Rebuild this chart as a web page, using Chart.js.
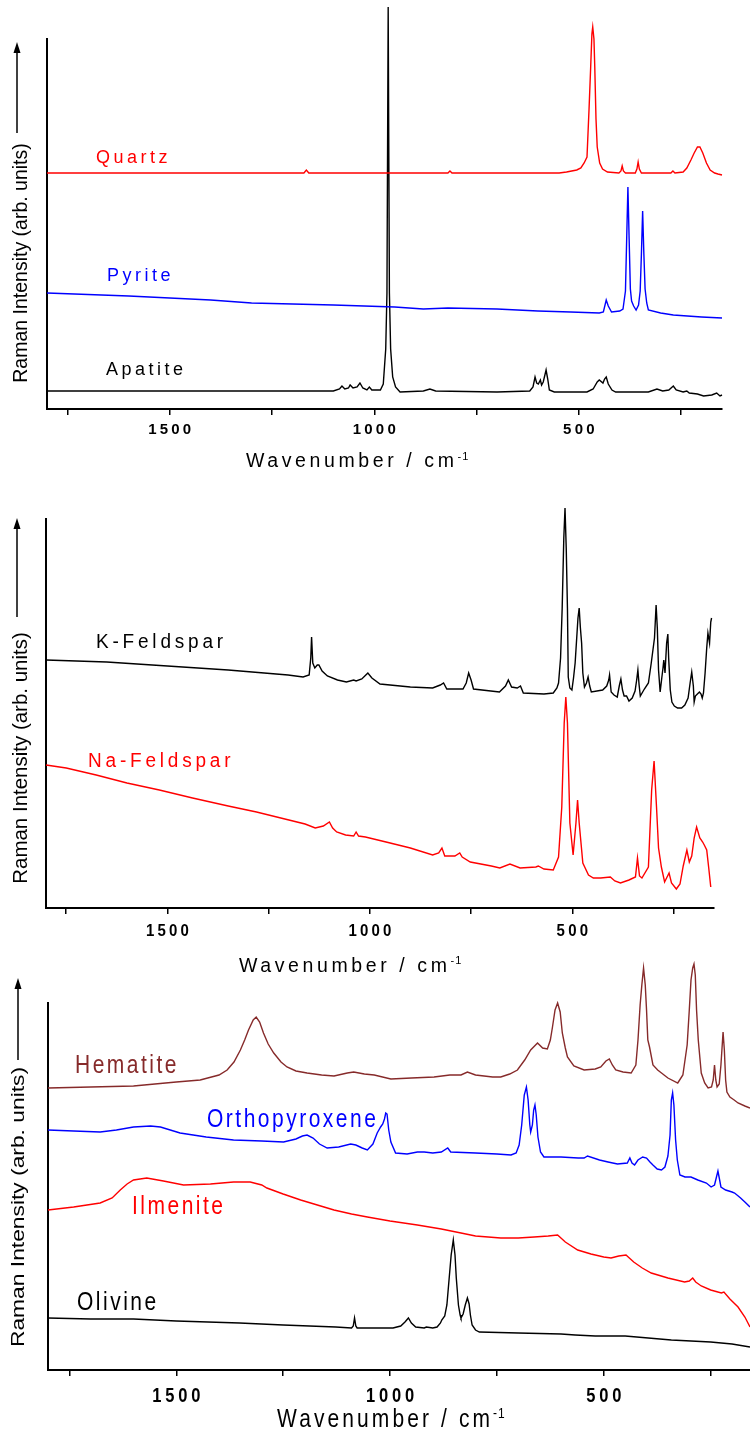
<!DOCTYPE html>
<html>
<head>
<meta charset="utf-8">
<script src="https://cdn.jsdelivr.net/npm/chart.js@4.4.0/dist/chart.umd.min.js"></script>
<style>
  html, body { margin: 0; padding: 0; background: #fff; }
  body { width: 750px; height: 1434px; position: relative; overflow: hidden; }
  .panel { position: absolute; left: 0; width: 750px; }
  #p1 { top: 0; height: 480px; }
  #p2 { top: 480px; height: 500px; }
  #p3 { top: 940px; height: 494px; }
  canvas { display: block; }
</style>
</head>
<body>
<div class="panel" id="p1"><canvas id="c1"></canvas></div>
<div class="panel" id="p2"><canvas id="c2"></canvas></div>
<div class="panel" id="p3"><canvas id="c3"></canvas></div>

<script>
// Raman spectra of minerals - three stacked panels, wavenumber axis reversed

// shared x axis ticks
const xTicks = [1750, 1500, 1250, 1000, 750, 500, 250];
const xTickLabels = ['', '1500', '', '1000', '', '500', ''];

// --- panel 1 : [wavenumber, intensity (arb.)]
const quartz = [[1800,236],[1172,236],[1166,239],[1160,236],[820,236],[815,238],[810,236],[548,236],[530,237],[505,239],[495,241],[487,246],[480,252],[475,300],[471,342],[468,375],[466,382],[463,370],[461,342],[458,290],[455,262],[449,246],[442,240],[430,237],[402,236],[397,238],[394,243],[391,238],[386,236],[362,236],[358,240],[355,247],[352,240],[347,236],[275,236],[270,238],[265,236],[245,237],[236,241],[226,249],[218,256],[210,262],[204,262],[197,256],[188,246],[179,239],[168,236],[160,235],[150,234]];
const pyrite = [[1800,116],[1600,113],[1400,109],[1300,106],[1100,104],[950,102],[880,100],[820,101],[700,100],[600,98],[520,97],[450,96],[440,97],[433,109],[428,103],[420,97],[400,98],[392,100],[386,118],[383,170],[380,222],[377,170],[374,120],[371,108],[366,103],[360,99],[354,104],[350,118],[347,155],[344,198],[341,155],[338,120],[334,106],[330,99],[300,96],[269,94],[200,92],[150,91]];
const apatite = [[1800,18],[1100,18],[1085,20],[1079,23],[1072,20],[1063,21],[1059,24],[1052,21],[1042,22],[1035,26],[1028,21],[1018,19],[1012,22],[1006,19],[985,19],[978,25],[972,60],[969,116],[966,402],[963,116],[960,60],[955,32],[948,22],[937,17],[880,18],[864,20],[850,18],[700,17],[620,18],[612,22],[607,32],[603,26],[599,25],[594,29],[591,24],[587,27],[580,39],[576,30],[572,19],[560,17],[480,17],[465,20],[455,27],[450,29],[441,26],[437,30],[433,32],[428,25],[419,19],[410,17],[330,17],[309,20],[295,18],[280,19],[269,23],[262,19],[245,17],[236,18],[230,16],[210,15],[195,13],[175,14],[163,16],[155,13],[150,14]];

// --- panel 2
const kFeldspar = [[1800,248],[1650,246],[1500,242],[1350,238],[1202,233],[1165,231],[1150,233],[1146,250],[1144,271],[1141,245],[1136,240],[1130,243],[1126,243],[1118,237],[1105,232],[1080,228],[1058,226],[1040,228],[1034,227],[1020,229],[1010,233],[1005,235],[995,230],[975,224],[900,221],[845,220],[826,223],[818,225],[810,219],[770,219],[762,225],[756,235],[750,228],[744,219],[680,216],[665,222],[658,228],[650,221],[636,220],[628,222],[621,215],[570,214],[547,215],[538,220],[534,225],[529,250],[525,300],[521,370],[518,400],[515,360],[512,300],[510,231],[506,220],[501,218],[497,230],[493,245],[486,290],[483,300],[480,280],[477,265],[474,235],[470,221],[465,225],[461,231],[457,222],[453,216],[425,218],[415,222],[410,228],[408,233],[404,216],[397,213],[389,211],[384,222],[380,229],[376,218],[372,212],[366,212],[360,207],[352,210],[345,217],[341,228],[338,238],[335,223],[332,212],[322,219],[312,225],[305,245],[297,270],[293,303],[290,280],[287,238],[283,216],[279,230],[276,240],[274,248],[271,235],[267,265],[264,274],[262,250],[258,218],[254,206],[248,202],[240,200],[230,200],[222,203],[214,210],[209,225],[205,236],[201,222],[199,206],[196,212],[191,214],[186,216],[182,214],[179,210],[176,215],[172,235],[168,260],[165,275],[161,265],[158,286],[156,290]];
const naFeldspar = [[1800,143],[1750,140],[1676,133],[1600,125],[1520,118],[1438,110],[1350,102],[1280,96],[1200,88],[1160,84],[1135,80],[1115,82],[1100,86],[1092,80],[1082,76],[1060,73],[1040,72],[1034,76],[1028,72],[1011,71],[960,66],[900,60],[845,53],[830,55],[822,60],[815,52],[790,52],[778,55],[772,51],[752,46],[700,42],[679,40],[654,44],[629,40],[590,41],[584,42],[570,39],[547,38],[534,51],[526,101],[520,185],[516,211],[512,185],[506,85],[498,53],[491,85],[487,108],[483,85],[474,45],[460,33],[448,30],[430,30],[406,31],[395,27],[381,25],[360,28],[344,31],[339,50],[334,32],[328,30],[312,41],[304,118],[298,147],[292,101],[287,60],[280,41],[272,26],[261,35],[255,25],[243,19],[234,24],[226,42],[217,58],[211,46],[205,52],[199,70],[193,81],[185,70],[178,66],[174,63],[168,58],[163,40],[158,21]];

// --- panel 3
const hematite = [[1800,282],[1700,283],[1600,284],[1500,288],[1444,290],[1400,295],[1381,300],[1365,308],[1350,320],[1340,330],[1331,340],[1320,350],[1313,353],[1305,348],[1296,337],[1285,326],[1272,317],[1255,308],[1241,303],[1220,299],[1194,297],[1160,295],[1131,294],[1100,297],[1085,298],[1060,296],[1037,295],[998,291],[950,292],[897,293],[860,295],[834,295],[819,298],[800,295],[760,293],[741,293],[720,296],[702,300],[685,310],[671,320],[655,327],[643,322],[632,321],[625,330],[620,343],[614,360],[608,367],[602,358],[597,337],[590,322],[585,313],[570,304],[546,300],[520,301],[507,303],[495,309],[487,311],[480,305],[472,300],[455,298],[436,297],[425,305],[420,330],[415,365],[411,385],[407,402],[403,385],[400,360],[397,330],[393,323],[385,305],[374,300],[350,292],[327,287],[315,295],[305,325],[300,360],[296,390],[292,402],[289,406],[286,395],[283,360],[279,330],[272,297],[264,287],[256,282],[248,283],[244,290],[241,305],[238,290],[235,283],[230,286],[226,305],[221,338],[218,320],[215,290],[212,278],[205,273],[195,270],[186,267],[170,264],[158,262]];
const orthopyroxene = [[1800,240],[1740,239],[1678,238],[1640,240],[1600,243],[1560,244],[1537,243],[1491,237],[1430,233],[1366,230],[1300,229],[1249,228],[1220,231],[1205,234],[1194,235],[1180,232],[1165,226],[1147,222],[1120,223],[1092,226],[1080,225],[1065,222],[1053,220],[1040,226],[1030,237],[1022,243],[1017,246],[1013,251],[1010,257],[1007,256],[1003,240],[998,228],[987,217],[960,216],[936,218],[920,218],[900,217],[880,218],[865,222],[858,218],[800,217],[750,216],[717,215],[705,217],[698,225],[692,245],[686,275],[681,283],[677,270],[673,245],[671,238],[667,245],[664,260],[661,265],[658,255],[654,233],[648,218],[640,213],[600,213],[560,212],[546,212],[538,214],[510,210],[490,208],[468,206],[445,207],[439,212],[434,207],[428,205],[420,210],[409,213],[400,212],[392,208],[385,205],[375,201],[365,200],[357,203],[350,214],[345,235],[342,270],[339,277],[336,265],[332,230],[328,210],[322,195],[310,193],[296,193],[280,190],[260,187],[249,183],[241,185],[237,192],[233,199],[229,190],[226,183],[215,180],[200,178],[194,177],[180,172],[170,168],[158,163]];
const ilmenite = [[1800,160],[1740,163],[1678,167],[1650,172],[1631,180],[1615,186],[1600,190],[1569,192],[1530,189],[1483,185],[1420,186],[1366,188],[1327,188],[1300,185],[1288,182],[1250,176],[1209,170],[1170,165],[1131,160],[1090,156],[1053,153],[1000,149],[936,145],[880,141],[834,137],[800,134],[741,132],[700,132],[663,133],[630,134],[608,135],[590,128],[561,120],[530,116],[500,113],[483,112],[465,114],[448,115],[430,108],[410,102],[389,97],[350,92],[311,88],[300,89],[292,92],[285,88],[272,84],[250,80],[225,77],[219,78],[205,71],[186,63],[170,53],[158,43]];
const olivine = [[1800,52],[1700,51],[1600,51],[1500,49],[1352,47],[1250,45],[1127,43],[1090,42],[1086,44],[1083,52],[1080,44],[1077,42],[1040,42],[993,42],[975,44],[965,48],[957,52],[950,47],[940,43],[920,42],[915,43],[900,42],[890,43],[882,47],[879,50],[872,54],[867,65],[862,90],[857,115],[852,130],[848,115],[845,92],[840,65],[836,55],[834,52],[829,56],[824,65],[819,72],[815,66],[812,55],[808,45],[800,40],[791,38],[700,37],[600,36],[567,35],[520,34],[450,34],[342,30],[250,28],[200,26],[158,23]];

const RED = '#ff0000', BLUE = '#0000ff', BLACK = '#000000', BROWN = '#862a2a';
const FONT = '"Liberation Sans", Arial, Helvetica, sans-serif';

const panels = [
  {
    id: 'c1', w: 750, h: 480, left: 47, right: 722, top: 39, bottom: 409, xMin: 150, yMax: 370, sy: 1,
    tickFont: 15, tickSpacing: 3.2, tickY: 430,
    titleFont: 19.5, titleSpacing: 3.6, titleX: 246, titleY: 462,
    yTitleFont: 19.5, yTitleX: 22, yTitleY: 263, arrowX: 17, arrowFrom: 133, arrowTo: 42,
    labelFont: 18, labelSpacing: 3.5,
    series: [
      { name: 'Quartz', data: quartz, color: RED, lx: 96, ly: 158 },
      { name: 'Pyrite', data: pyrite, color: BLUE, lx: 107, ly: 276 },
      { name: 'Apatite', data: apatite, color: BLACK, lx: 106, ly: 370 }
    ]
  },
  {
    id: 'c2', w: 750, h: 500, left: 46, right: 714, top: 39, bottom: 428, xMin: 150, yMax: 389, sy: 1.05,
    tickFont: 15, tickSpacing: 3.2, tickY: 452,
    titleFont: 19.5, titleSpacing: 3.6, titleX: 239, titleY: 486,
    yTitleFont: 19.5, yTitleX: 22, yTitleY: 278, arrowX: 17, arrowFrom: 137, arrowTo: 38,
    labelFont: 19, labelSpacing: 3.8,
    series: [
      { name: 'K-Feldspar', data: kFeldspar, color: BLACK, lx: 96, ly: 163 },
      { name: 'Na-Feldspar', data: naFeldspar, color: RED, lx: 88, ly: 282 }
    ]
  },
  {
    id: 'c3', w: 750, h: 494, left: 48, right: 750, top: 63, bottom: 430, xMin: 158, yMax: 367, sy: 1.2,
    tickFont: 16.5, tickSpacing: 3.8, tickY: 457,
    titleFont: 21, titleSpacing: 3.1, titleX: 277, titleY: 480,
    yTitleFont: 19, yTitleX: 19, yTitleY: 267, arrowX: 18, arrowFrom: 120, arrowTo: 38,
    labelFont: 21, labelSpacing: 2.5,
    series: [
      { name: 'Hematite', data: hematite, color: BROWN, lx: 75, ly: 126 },
      { name: 'Orthopyroxene', data: orthopyroxene, color: BLUE, lx: 207, ly: 180 },
      { name: 'Ilmenite', data: ilmenite, color: RED, lx: 132, ly: 267 },
      { name: 'Olivine', data: olivine, color: BLACK, lx: 77, ly: 363 }
    ]
  }
];

function stretchedText(ctx, str, x, y, sy, align) {
  ctx.save();
  ctx.translate(x, y);
  ctx.scale(1, sy);
  ctx.textAlign = align;
  ctx.textBaseline = 'middle';
  ctx.fillText(str, 0, 0);
  ctx.restore();
}

function makeDecor(p) {
  return {
    id: 'decor',
    afterDraw(chart) {
      const ctx = chart.ctx;
      const xs = chart.scales.x;
      ctx.save();
      ctx.fillStyle = '#000';

      // tick labels
      ctx.font = `bold ${p.tickFont}px ${FONT}`;
      ctx.letterSpacing = p.tickSpacing + 'px';
      xs.ticks.forEach(t => {
        const lab = xTickLabels[xTicks.indexOf(t.value)];
        if (!lab) return;
        stretchedText(ctx, lab, xs.getPixelForValue(t.value) + p.tickSpacing / 2, p.tickY, p.sy, 'center');
      });

      // x title with superscript
      ctx.font = `${p.titleFont}px ${FONT}`;
      ctx.letterSpacing = p.titleSpacing + 'px';
      const main = 'Wavenumber / cm';
      stretchedText(ctx, main, p.titleX, p.titleY, p.sy, 'left');
      const wMain = ctx.measureText(main).width;
      ctx.font = `${Math.round(p.titleFont * 0.58)}px ${FONT}`;
      ctx.letterSpacing = '1px';
      stretchedText(ctx, '-1', p.titleX + wMain, p.titleY - 5 * p.sy, p.sy, 'left');

      // y title and arrow
      ctx.font = `${p.yTitleFont}px ${FONT}`;
      ctx.letterSpacing = '0px';
      ctx.save();
      ctx.translate(p.yTitleX, p.yTitleY);
      ctx.scale(1, p.sy);
      ctx.rotate(-Math.PI / 2);
      ctx.textAlign = 'center';
      ctx.textBaseline = 'middle';
      ctx.fillText('Raman Intensity (arb. units)', 0, 0);
      ctx.restore();

      ctx.strokeStyle = '#000';
      ctx.fillStyle = '#000';
      ctx.lineWidth = 1.5;
      ctx.beginPath();
      ctx.moveTo(p.arrowX, p.arrowFrom);
      ctx.lineTo(p.arrowX, p.arrowTo + 8);
      ctx.stroke();
      ctx.beginPath();
      ctx.moveTo(p.arrowX, p.arrowTo);
      ctx.lineTo(p.arrowX - 3.5, p.arrowTo + 11);
      ctx.lineTo(p.arrowX + 3.5, p.arrowTo + 11);
      ctx.closePath();
      ctx.fill();

      // series names
      ctx.font = `${p.labelFont}px ${FONT}`;
      ctx.letterSpacing = p.labelSpacing + 'px';
      p.series.forEach(s => {
        ctx.fillStyle = s.color;
        stretchedText(ctx, s.name, s.lx, s.ly, p.sy, 'left');
      });
      ctx.restore();
    }
  };
}

function makeChart(p) {
  const canvas = document.getElementById(p.id);
  canvas.width = p.w;
  canvas.height = p.h;
  return new Chart(canvas, {
    type: 'line',
    data: {
      datasets: p.series.map(s => ({
        label: s.name,
        data: s.data.map(([x, y]) => ({ x, y })),
        borderColor: s.color,
        borderWidth: 1.4,
        pointRadius: 0,
        tension: 0,
        fill: false,
        clip: false
      }))
    },
    options: {
      responsive: false,
      animation: false,
      events: [],
      layout: { padding: { left: p.left, right: p.w - p.right, top: p.top, bottom: 0 } },
      plugins: { legend: { display: false }, tooltip: { enabled: false } },
      scales: {
        x: {
          type: 'linear',
          reverse: true,
          min: p.xMin,
          max: 1800,
          afterBuildTicks: s => { s.ticks = xTicks.map(v => ({ value: v })); },
          afterFit: s => { s.height = p.h - p.bottom; },
          ticks: { display: false },
          grid: { display: true, drawOnChartArea: false, drawTicks: true, tickLength: 6, color: '#000', lineWidth: 1.5 },
          border: { display: true, color: '#000', width: 2 }
        },
        y: {
          type: 'linear',
          min: 0,
          max: p.yMax,
          afterFit: s => { s.width = 0; },
          ticks: { display: false },
          grid: { display: false, drawTicks: false },
          border: { display: true, color: '#000', width: 2 }
        }
      }
    },
    plugins: [makeDecor(p)]
  });
}

panels.forEach(makeChart);
</script>
</body>
</html>
